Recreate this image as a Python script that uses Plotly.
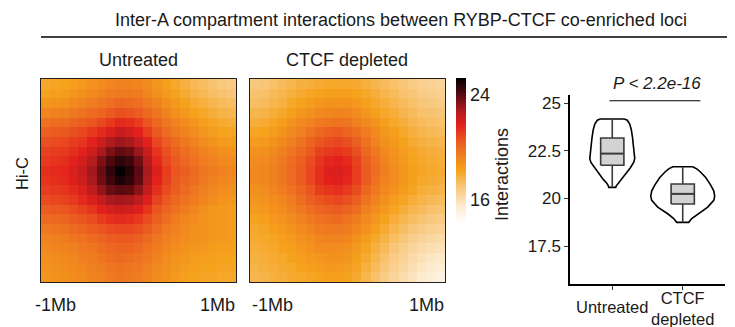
import plotly.graph_objects as go

# ---------------- data ----------------
HM_UNTREATED = [
    [18.1,18.2,18.3,18.4,18.6,18.8,19.0,19.2,19.3,19.3,19.2,19.0,18.7,18.4,18.1,17.8,17.5,17.3,17.1,16.9,16.8],
    [18.3,18.4,18.5,18.7,18.9,19.1,19.3,19.5,19.6,19.6,19.5,19.2,18.9,18.6,18.3,18.0,17.7,17.5,17.3,17.1,17.0],
    [18.7,18.8,18.9,19.1,19.3,19.5,19.7,19.9,20.1,20.0,19.9,19.6,19.3,18.9,18.6,18.3,18.0,17.8,17.6,17.4,17.3],
    [19.2,19.3,19.4,19.6,19.8,20.0,20.2,20.5,20.7,20.6,20.4,20.1,19.7,19.3,18.9,18.6,18.3,18.1,17.9,17.7,17.6],
    [19.8,19.9,20.0,20.2,20.4,20.6,20.9,21.2,21.5,21.4,21.1,20.6,20.1,19.7,19.3,19.0,18.7,18.4,18.2,18.0,17.9],
    [20.3,20.4,20.5,20.7,20.9,21.2,21.5,21.9,22.3,22.1,21.7,21.1,20.5,20.0,19.6,19.3,19.0,18.7,18.5,18.3,18.2],
    [20.7,20.8,20.9,21.1,21.3,21.7,22.2,22.8,23.1,22.9,22.4,21.7,20.9,20.4,20.0,19.6,19.3,19.0,18.8,18.6,18.5],
    [21.0,21.1,21.2,21.4,21.7,22.2,22.9,23.5,23.9,23.7,23.1,22.3,21.3,20.7,20.3,19.9,19.6,19.3,19.1,18.9,18.8],
    [21.2,21.3,21.4,21.7,22.1,22.7,23.5,24.2,24.6,24.4,23.7,22.7,21.6,20.9,20.5,20.1,19.8,19.5,19.3,19.1,19.0],
    [21.4,21.5,21.6,21.9,22.3,23.0,23.8,24.6,25.2,24.8,24.0,22.9,21.8,21.1,20.6,20.3,20.0,19.7,19.5,19.3,19.2],
    [21.3,21.4,21.5,21.8,22.2,22.9,23.7,24.4,24.9,24.6,23.9,22.8,21.7,21.0,20.5,20.2,19.9,19.6,19.4,19.2,19.1],
    [21.1,21.2,21.3,21.5,21.9,22.5,23.2,23.8,24.0,23.9,23.3,22.4,21.4,20.8,20.4,20.0,19.7,19.4,19.2,19.0,18.9],
    [20.8,20.9,21.0,21.2,21.5,21.9,22.4,22.9,23.0,22.9,22.5,21.8,21.0,20.5,20.1,19.8,19.5,19.2,19.0,18.8,18.7],
    [20.4,20.5,20.6,20.8,21.0,21.3,21.7,22.0,22.2,22.1,21.8,21.3,20.6,20.2,19.8,19.5,19.2,18.9,18.7,18.6,18.5],
    [20.0,20.1,20.2,20.4,20.6,20.8,21.1,21.4,21.5,21.4,21.2,20.8,20.3,19.9,19.5,19.2,19.0,18.8,18.7,18.6,18.5],
    [19.6,19.7,19.8,20.0,20.2,20.4,20.6,20.8,20.9,20.9,20.7,20.4,20.0,19.6,19.3,19.1,18.9,18.8,18.7,18.6,18.5],
    [19.3,19.4,19.5,19.7,19.8,20.0,20.2,20.4,20.5,20.5,20.3,20.0,19.7,19.4,19.2,19.0,18.9,18.8,18.7,18.6,18.5],
    [19.1,19.2,19.3,19.4,19.6,19.7,19.9,20.1,20.2,20.2,20.0,19.8,19.5,19.2,19.0,18.8,18.7,18.6,18.5,18.4,18.4],
    [18.9,19.0,19.1,19.2,19.4,19.5,19.7,19.9,20.0,19.9,19.8,19.6,19.3,19.0,18.8,18.7,18.5,18.4,18.4,18.3,18.3],
    [18.8,18.9,19.0,19.1,19.2,19.4,19.5,19.7,19.8,19.7,19.6,19.4,19.1,18.9,18.7,18.5,18.4,18.3,18.3,18.2,18.2],
    [18.7,18.8,18.9,19.0,19.1,19.3,19.4,19.6,19.7,19.6,19.5,19.3,19.0,18.8,18.6,18.4,18.3,18.2,18.2,18.1,18.1],
]

HM_DEPLETED = [
    [16.9,17.0,17.2,17.4,17.6,17.8,17.9,18.0,18.1,18.1,18.1,18.0,17.8,17.6,17.4,17.2,17.0,16.8,16.6,16.5,16.4],
    [17.1,17.2,17.4,17.6,17.8,18.0,18.2,18.3,18.4,18.4,18.4,18.3,18.1,17.9,17.6,17.4,17.2,17.0,16.8,16.7,16.6],
    [17.3,17.4,17.6,17.8,18.1,18.3,18.5,18.7,18.8,18.8,18.8,18.6,18.4,18.1,17.9,17.6,17.4,17.2,17.0,16.9,16.8],
    [17.6,17.7,17.9,18.1,18.4,18.7,18.9,19.1,19.2,19.3,19.2,19.0,18.7,18.4,18.1,17.9,17.6,17.4,17.2,17.1,17.0],
    [17.9,18.0,18.2,18.5,18.8,19.1,19.3,19.6,19.7,19.8,19.7,19.4,19.1,18.8,18.4,18.1,17.9,17.6,17.4,17.3,17.2],
    [18.2,18.3,18.5,18.8,19.1,19.4,19.8,20.1,20.3,20.4,20.2,19.9,19.5,19.1,18.7,18.4,18.1,17.8,17.6,17.5,17.4],
    [18.5,18.6,18.8,19.1,19.4,19.8,20.2,20.6,20.8,20.9,20.7,20.3,19.8,19.3,18.9,18.6,18.3,18.0,17.8,17.7,17.6],
    [18.8,18.9,19.1,19.4,19.7,20.1,20.5,21.0,21.2,21.3,21.1,20.7,20.1,19.6,19.1,18.8,18.5,18.2,18.0,17.9,17.8],
    [19.0,19.1,19.3,19.6,19.9,20.3,20.8,21.3,21.6,21.7,21.5,21.0,20.3,19.8,19.3,18.9,18.6,18.3,18.1,18.0,17.9],
    [19.1,19.2,19.4,19.7,20.0,20.4,20.9,21.4,21.8,21.9,21.7,21.1,20.4,19.9,19.4,19.0,18.7,18.4,18.2,18.1,18.0],
    [19.1,19.2,19.4,19.7,20.0,20.4,20.9,21.4,21.7,21.8,21.6,21.1,20.4,19.8,19.3,19.0,18.7,18.4,18.1,18.0,17.9],
    [18.9,19.0,19.2,19.5,19.8,20.2,20.6,21.1,21.3,21.4,21.2,20.8,20.1,19.6,19.1,18.8,18.5,18.2,17.9,17.8,17.7],
    [18.7,18.8,19.0,19.2,19.5,19.9,20.3,20.6,20.8,20.9,20.7,20.3,19.8,19.3,18.9,18.5,18.2,17.9,17.7,17.5,17.4],
    [18.5,18.6,18.8,19.0,19.3,19.6,19.9,20.2,20.3,20.4,20.2,19.9,19.4,19.0,18.6,18.2,17.9,17.6,17.4,17.2,17.1],
    [18.3,18.4,18.6,18.8,19.0,19.3,19.6,19.8,19.9,20.0,19.8,19.5,19.1,18.7,18.3,17.9,17.6,17.3,17.1,16.9,16.8],
    [18.1,18.2,18.4,18.6,18.8,19.0,19.3,19.5,19.6,19.6,19.5,19.2,18.8,18.4,18.0,17.6,17.3,17.0,16.8,16.6,16.5],
    [18.0,18.1,18.2,18.4,18.6,18.8,19.0,19.2,19.3,19.3,19.2,18.9,18.5,18.1,17.7,17.3,17.0,16.7,16.5,16.3,16.2],
    [17.9,18.0,18.1,18.3,18.4,18.6,18.8,19.0,19.0,19.0,18.9,18.6,18.2,17.8,17.4,17.0,16.7,16.4,16.2,16.0,15.9],
    [17.8,17.9,18.0,18.1,18.3,18.4,18.6,18.7,18.8,18.8,18.7,18.4,18.0,17.6,17.2,16.8,16.5,16.2,15.9,15.7,15.6],
    [17.7,17.8,17.9,18.0,18.1,18.3,18.4,18.5,18.6,18.6,18.5,18.2,17.8,17.4,17.0,16.6,16.3,16.0,15.7,15.5,15.4],
    [17.6,17.7,17.8,17.9,18.0,18.1,18.2,18.3,18.4,18.4,18.3,18.0,17.6,17.2,16.8,16.4,16.1,15.8,15.5,15.3,15.1],
]

HEATMAP_TITLES = ["Untreated", "CTCF depleted"]
EDGE_LABELS = ["-1Mb", "1Mb"]
COLORBAR_TICKS = [16, 24]

CATEGORIES = ["Untreated", "CTCF<br>depleted"]
CAT_POS = [1, 2]

# violin outlines: value levels and half-widths (x units)
V1_Y = [24.16, 24.10, 23.90, 23.60, 23.20, 22.80, 22.40, 22.10, 21.90, 21.60, 21.30, 21.00, 20.80, 20.65, 20.58]
V1_W = [0.170, 0.213, 0.248, 0.270, 0.287, 0.301, 0.312, 0.319, 0.305, 0.255, 0.191, 0.128, 0.078, 0.055, 0.050]
V2_Y = [21.66, 21.55, 21.40, 21.10, 20.70, 20.40, 20.12, 19.90, 19.55, 19.20, 18.95, 18.75]
V2_W = [0.142, 0.199, 0.248, 0.326, 0.397, 0.440, 0.454, 0.440, 0.355, 0.213, 0.128, 0.085]

# box statistics
Q1 = [21.74, 19.71]
MEDIAN = [22.35, 20.24]
Q3 = [23.17, 20.76]
LOWER = [20.58, 18.75]
UPPER = [24.16, 21.66]
BOX_HALF = 0.165

Y_TICKS = [17.5, 20, 22.5, 25]
P_TEXT = "P &lt; 2.2e-16"

# ---------------- figure ----------------
W, H = 735, 327
FONT = "Liberation Sans, Arial, Helvetica, sans-serif"
TXT = "#1a1a1a"
FS = 18

def px(x):
    return x / W

def py(y):
    return 1 - y / H

ZMIN, ZMAX = 14.25, 25.3
CSCALE = [
    [0.0, "#FFFFFF"],
    [0.113, "#FDEBD0"],
    [0.249, "#F8C678"],
    [0.367, "#F5A21C"],
    [0.475, "#EF7D20"],
    [0.575, "#EA5520"],
    [0.674, "#E3211C"],
    [0.774, "#B01B1E"],
    [0.882, "#5A0A10"],
    [1.0, "#000000"],
]

fig = go.Figure()

fig.add_trace(go.Heatmap(
    z=HM_UNTREATED, zmin=ZMIN, zmax=ZMAX, colorscale=CSCALE,
    xaxis="x", yaxis="y", showscale=True, hoverinfo="skip",
    colorbar=dict(
        x=px(448), xanchor="left", y=py(142.5), yanchor="middle",
        len=145 / H, lenmode="fraction", thickness=10, thicknessmode="pixels",
        xpad=0, ypad=0, outlinewidth=0, ticks="",
        tickvals=COLORBAR_TICKS, ticktext=[str(t) for t in COLORBAR_TICKS],
        tickfont=dict(family=FONT, size=FS, color=TXT),
    ),
))
fig.add_trace(go.Heatmap(
    z=HM_DEPLETED, zmin=ZMIN, zmax=ZMAX, colorscale=CSCALE,
    xaxis="x2", yaxis="y2", showscale=False, hoverinfo="skip",
))

# violins
def outline(center, ys, ws):
    xs = [center + w for w in ws] + [center - w for w in reversed(ws)]
    yy = list(ys) + list(reversed(ys))
    xs.append(xs[0])
    yy.append(yy[0])
    return xs, yy

for c, ys, ws in [(CAT_POS[0], V1_Y, V1_W), (CAT_POS[1], V2_Y, V2_W)]:
    xs, yy = outline(c, ys, ws)
    fig.add_trace(go.Scatter(
        x=xs, y=yy, mode="lines", fill="toself", fillcolor="white",
        line=dict(color="black", width=1.6), xaxis="x3", yaxis="y3",
        showlegend=False, hoverinfo="skip",
    ))

BOX_LINE = dict(color="#3a3a3a", width=1.6)
for i, c in enumerate(CAT_POS):
    fig.add_trace(go.Scatter(
        x=[c, c, None, c, c], y=[LOWER[i], Q1[i], None, Q3[i], UPPER[i]],
        mode="lines", line=BOX_LINE, xaxis="x3", yaxis="y3",
        showlegend=False, hoverinfo="skip",
    ))
    fig.add_trace(go.Scatter(
        x=[c - BOX_HALF, c + BOX_HALF, c + BOX_HALF, c - BOX_HALF, c - BOX_HALF],
        y=[Q1[i], Q1[i], Q3[i], Q3[i], Q1[i]],
        mode="lines", fill="toself", fillcolor="#D3D3D3", line=BOX_LINE,
        xaxis="x3", yaxis="y3", showlegend=False, hoverinfo="skip",
    ))
    fig.add_trace(go.Scatter(
        x=[c - BOX_HALF, c + BOX_HALF], y=[MEDIAN[i], MEDIAN[i]],
        mode="lines", line=dict(color="#3a3a3a", width=2), xaxis="x3", yaxis="y3",
        showlegend=False, hoverinfo="skip",
    ))

hm_axis = dict(showticklabels=False, ticks="", showgrid=False, zeroline=False,
               showline=True, mirror=True, linecolor="#231F20", linewidth=1.2)

fig.update_layout(
    width=W, height=H, margin=dict(l=0, r=0, t=0, b=0),
    paper_bgcolor="white", plot_bgcolor="white", showlegend=False,
    font=dict(family=FONT, color=TXT, size=FS),
    xaxis=dict(domain=[px(33), px(228)], anchor="y", range=[-0.5, 20.5], **hm_axis),
    yaxis=dict(domain=[py(274), py(71)], anchor="x", range=[20.5, -0.5], **hm_axis),
    xaxis2=dict(domain=[px(242), px(437)], anchor="y2", range=[-0.5, 20.5], **hm_axis),
    yaxis2=dict(domain=[py(274), py(71)], anchor="x2", range=[20.5, -0.5], **hm_axis),
    xaxis3=dict(domain=[px(562), px(717)], anchor="y3", range=[0.4, 2.6],
                showgrid=False, zeroline=False, showline=True, linecolor="black", linewidth=1.5,
                ticks="outside", ticklen=4, tickwidth=1.2, tickcolor="#333",
                tickvals=CAT_POS, showticklabels=False),
    yaxis3=dict(domain=[py(276), py(87)], anchor="x3", range=[15.52, 25.42],
                showgrid=False, zeroline=False, showline=True, linecolor="black", linewidth=1.5,
                ticks="outside", ticklen=4, tickwidth=1.2, tickcolor="#333",
                tickvals=Y_TICKS, ticktext=[f"{t:g}" for t in Y_TICKS],
                tickfont=dict(family=FONT, size=17, color=TXT)),
)

def note(text, x, y, xref="paper", xanchor="center", angle=0, size=FS):
    return dict(text=text, x=x, y=y, xref=xref, yref="paper", showarrow=False,
                xanchor=xanchor, yanchor="middle", textangle=angle,
                font=dict(size=size, family=FONT, color=TXT))

ann = [
    note("Inter-A compartment interactions between RYBP-CTCF co-enriched loci", px(393), py(12), size=18),
    note(HEATMAP_TITLES[0], px(130), py(52)),
    note(HEATMAP_TITLES[1], px(339), py(52)),
    note("Hi-C", px(14), py(166), angle=-90, size=16.5),
    note(EDGE_LABELS[0], px(25), py(297), xanchor="left"),
    note(EDGE_LABELS[1], px(229), py(297), xanchor="right"),
    note(EDGE_LABELS[0], px(242), py(297), xanchor="left"),
    note(EDGE_LABELS[1], px(438), py(297), xanchor="right"),
    note("Interactions", px(494), py(167), angle=-90),
    note(CATEGORIES[0], CAT_POS[0], py(299), xref="x3", size=16.5),
    note(CATEGORIES[1], CAT_POS[1], py(300), xref="x3", size=16.5),
    note("<i>" + P_TEXT + "</i>", 1.64, py(76), xref="x3", size=17),
]
fig.update_layout(annotations=ann)

fig.update_layout(shapes=[
    dict(type="line", xref="paper", yref="paper", x0=px(33), x1=px(733), y0=py(29), y1=py(29),
         line=dict(color="black", width=1.5)),
    dict(type="line", xref="x3", yref="y3", x0=0.96, x1=2.25, y0=25.12, y1=25.12,
         line=dict(color="black", width=1.2)),
])

fig.write_html("out.html")
